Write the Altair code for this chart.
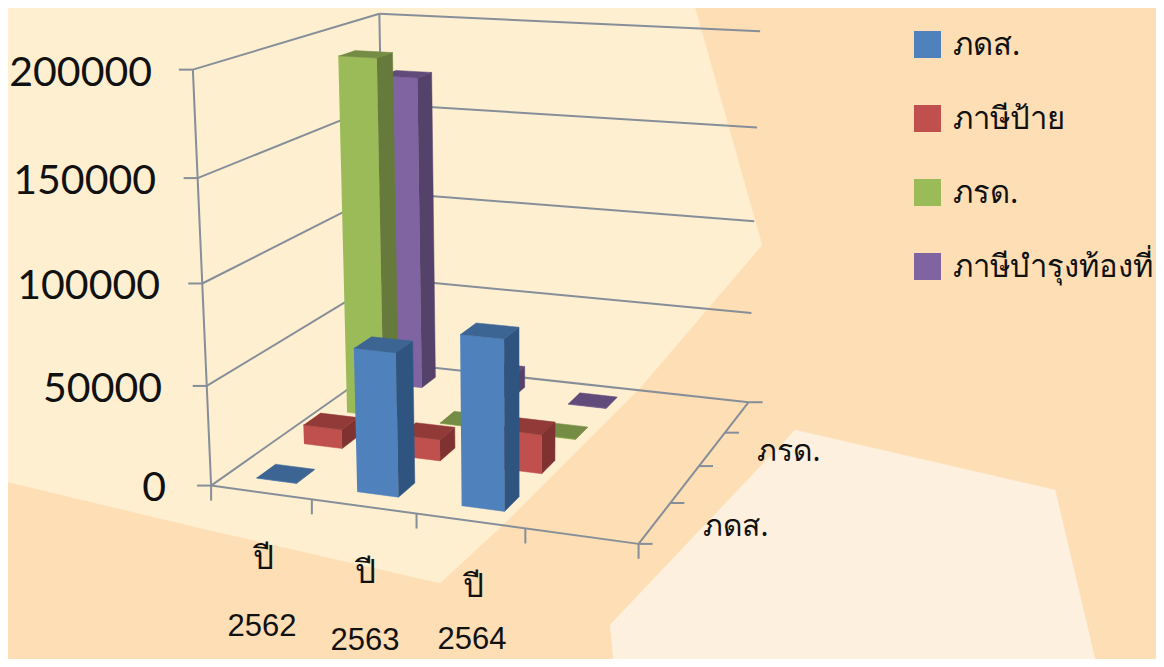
import numpy as np
import pandas as pd
import altair as alt

# ---- chart values
years = ["2562", "2563", "2564"]
year_word = "ปี"
series = ["ภดส.", "ภาษีป้าย", "ภรด.", "ภาษีบำรุงท้องที่"]
v_pds = [300, 71000, 83000]
v_pai = [10000, 11000, 20000]
v_rd = [190000, 300, 300]
v_bt = [172000, 12000, 300]
values = [v_pds, v_pai, v_rd, v_bt]
y_ticks = [0, 50000, 100000, 150000, 200000]
depth_labels = ["ภดส.", "ภรด."]

# ---- colours per series: front, side, top
shades = [("#4F81BD", "#2F5480", "#3C6594"),
          ("#C0504D", "#7F3230", "#923A38"),
          ("#9BBB59", "#667B3B", "#748C43"),
          ("#8064A2", "#54426B", "#604B7A")]
GRID = "#868E9A"
BASE, CREAM, PALE = "#FDDEB5", "#FEEFD0", "#FDF0DE"
VMAX = 200000
N_CAT, N_SER = 4, 4
BAR_W, BAR_D = 0.40, 0.38

# ---- camera of the 3D box: box position (category, series, value) -> picture position
anchors = [((0,0,0),(209,485)),((1,0,0),(639,544)),((1,1,0),(747,402)),((0,1,0),(389,363)),
           ((0,0,1),(195,71)),((0,1,1),(377,13)),((1,1,1),(760,31)),
           ((0,0,.25),(206,386)),((0,0,.5),(202,283)),((0,0,.75),(198,178)),
           ((1,1,.25),(750,315)),((1,1,.5),(755,221)),((1,1,.75),(758,127)),
           ((.25,0,0),(312,499)),((.5,0,0),(416,514)),((.75,0,0),(525,529)),
           ((1,.25,0),(671,502)),((1,.5,0),(700,466)),((1,.75,0),(725,432))]
A, b = [], []
for (t, s, v), (px, py) in anchors:
    A.append([t, s, v, 1, 0, 0, 0, 0, -px*t, -px*s, -px*v]); b.append(px)
    A.append([0, 0, 0, 0, t, s, v, 1, -py*t, -py*s, -py*v]); b.append(py)
m = np.linalg.lstsq(np.array(A, float), np.array(b, float), rcond=None)[0]
P = np.append(m, 1.0).reshape(3, 4)

def proj(t, s, v):
    q = P @ np.array([t, s, v, 1.0])
    return q[0]/q[2], q[1]/q[2]

rows_poly, rows_line = [], []
pid = [0]

def poly(points, color):
    pid[0] += 1
    for k, (x, y) in enumerate(points):
        rows_poly.append(dict(pid=f"p{pid[0]:04d}", k=k, x=x, y=y, color=color))

def seg(a, b):
    pid[0] += 1
    for k, (x, y) in enumerate((a, b)):
        rows_line.append(dict(pid=f"l{pid[0]:04d}", k=k, x=x, y=y))

# walls and floor
for v in y_ticks:
    f = v / VMAX
    seg(proj(0, 0, f), proj(0, 1, f))
    seg(proj(0, 1, f), proj(1, 1, f))
    x, y = proj(0, 0, f)
    seg((x - 14, y), (x, y))
seg(proj(0, 0, 0), proj(0, 0, 1))
seg(proj(0, 1, 0), proj(0, 1, 1))
seg(proj(0, 0, 0), proj(1, 0, 0))
seg(proj(1, 0, 0), proj(1, 1, 0))
for i in range(N_CAT + 1):
    x, y = proj(i / N_CAT, 0, 0)
    seg((x, y), (x, y + 15))
for j in range(N_SER + 1):
    x, y = proj(1, j / N_SER, 0)
    seg((x, y), (x + 14, y))

# bars, far row first
for j in range(N_SER - 1, -1, -1):
    for i, val in enumerate(values[j]):
        t0, t1 = (i + .5 - BAR_W/2) / N_CAT, (i + .5 + BAR_W/2) / N_CAT
        s0, s1 = (j + .5 - BAR_D/2) / N_SER, (j + .5 + BAR_D/2) / N_SER
        h = val / VMAX
        front, side, top = shades[j]
        poly([proj(t0, s0, 0), proj(t1, s0, 0), proj(t1, s0, h), proj(t0, s0, h)], front)
        poly([proj(t1, s0, 0), proj(t1, s1, 0), proj(t1, s1, h), proj(t1, s0, h)], side)
        poly([proj(t0, s0, h), proj(t1, s0, h), proj(t1, s1, h), proj(t0, s1, h)], top)

bg_rows = []
def bg(points, color):
    pid[0] += 1
    for k, (x, y) in enumerate(points):
        bg_rows.append(dict(pid=f"b{pid[0]:04d}", k=k, x=x, y=y, color=color))
bg([(8,8),(695,8),(762,245),(640,388),(505,523),(440,583),(200,528),(8,482)], CREAM)
bg([(610,625),(795,430),(1055,490),(1095,659),(613,659)], PALE)

X = alt.X("x:Q", scale=alt.Scale(domain=[8, 1156], nice=False, zero=False), axis=None)
Y = alt.Y("y:Q", scale=alt.Scale(domain=[659, 8], nice=False, zero=False), axis=None)

def fills(rows):
    return alt.Chart(pd.DataFrame(rows)).mark_line(filled=True, strokeWidth=0.5, interpolate="linear").encode(
        x=X, y=Y, detail="pid:N", order="k:Q",
        fill=alt.Fill("color:N", scale=None), stroke=alt.Stroke("color:N", scale=None))

lines = alt.Chart(pd.DataFrame(rows_line)).mark_line(color=GRID, strokeWidth=2).encode(
    x=X, y=Y, detail="pid:N", order="k:Q")

def text(rows, font, size, align="center", color="#111111"):
    return alt.Chart(pd.DataFrame(rows)).mark_text(font=font, fontSize=size, align=align, baseline="middle", color=color).encode(
        x=X, y=Y, text="s:N")

tick_pos = [(166, 489), (162, 390), (160, 287), (156, 182), (152, 74)]
t_y = text([dict(x=p[0], y=p[1], s=str(v)) for p, v in zip(tick_pos, y_ticks)], "Lato", 41, "right")
word_pos = [(263, 559), (365, 573), (473, 587)]
year_pos = [(262, 627), (365, 641), (472, 640)]
t_word = text([dict(x=p[0], y=p[1], s=year_word) for p in word_pos], "Noto Sans", 33)
t_year = text([dict(x=p[0], y=p[1], s=y) for p, y in zip(year_pos, years)], "Liberation Sans", 31)
t_depth = text([dict(x=736, y=527, s=depth_labels[0]), dict(x=789, y=452, s=depth_labels[1])], "Noto Sans", 30)

leg_y = [44.5, 118.5, 192.5, 266.5]
leg = alt.Chart(pd.DataFrame(dict(x=[927.5]*4, y=leg_y, color=[c[0] for c in shades]))).mark_point(
    shape="square", filled=True, opacity=1, size=729, strokeWidth=0).encode(
    x=X, y=Y, fill=alt.Fill("color:N", scale=None))
t_leg = text([dict(x=953, y=y + 1, s=s) for y, s in zip(leg_y, series)], "Noto Sans", 31, "left")

chart = alt.layer(
    fills(bg_rows), lines, fills(rows_poly), t_y, t_word, t_year, t_depth, leg, t_leg
).properties(width=1148, height=651, padding=0, background=BASE, autosize=alt.AutoSizeParams(type="none")
).configure_view(stroke=None)

chart.save("out.html", embed_options={"renderer": "svg", "actions": False})
